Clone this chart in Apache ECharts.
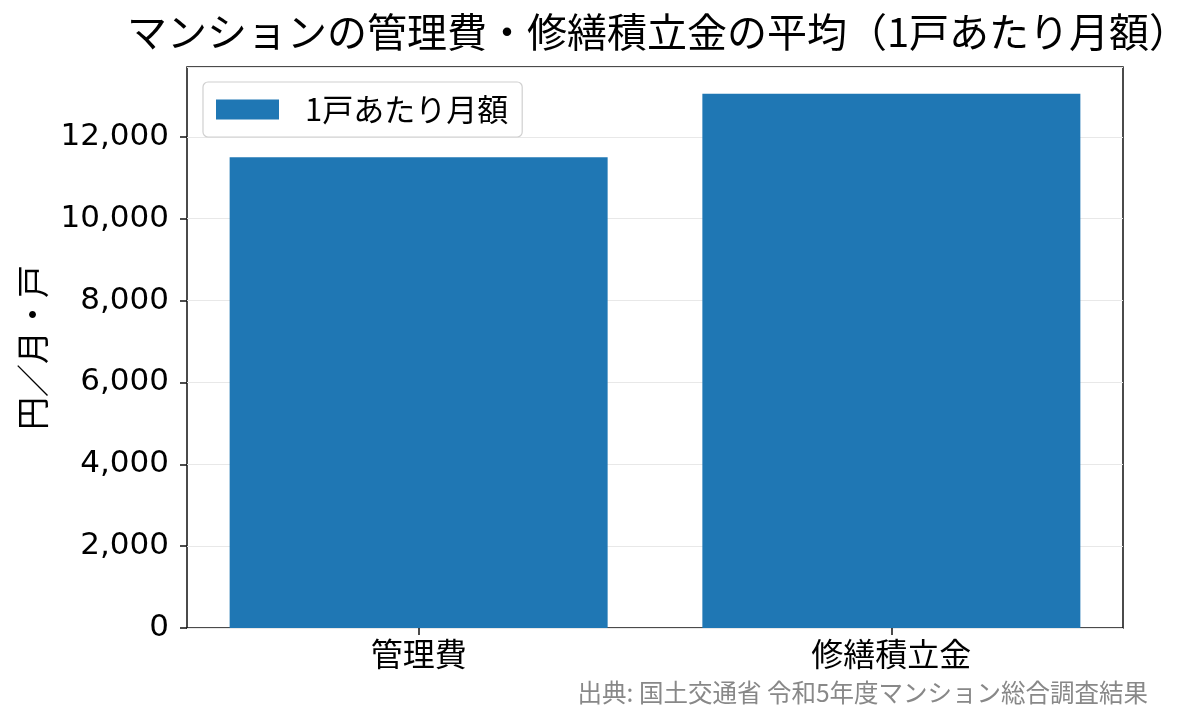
<!DOCTYPE html>
<html>
<head>
<meta charset="utf-8">
<script src="https://cdn.jsdelivr.net/npm/echarts@6/dist/echarts.min.js"></script>
<style>
html,body{margin:0;padding:0;background:#fff;}
#chart{width:1204px;height:725px;}
</style>
</head>
<body>
<div id="chart"></div>
<script>
const categories = ['管理費', '修繕積立金'];
const values = [11503, 13054];
const seriesName = '1戸あたり月額';
const titleText = 'マンションの管理費・修繕積立金の平均（1戸あたり月額）';
const yAxisName = '円／月・戸';
const sourceText = '出典: 国土交通省 令和5年度マンション総合調査結果';
const yTicks = [0, 2000, 4000, 6000, 8000, 10000, 12000];

const FONT = '"Noto Sans CJK JP", "Noto Sans", sans-serif';
const NUMFONT = '"DejaVu Sans", "Noto Sans CJK JP", sans-serif';
const chart = echarts.init(document.getElementById('chart'));
const yMax = Math.max(...values) * 1.05;

chart.setOption({
  animation: false,
  textStyle: { fontFamily: FONT },
  title: {
    text: titleText,
    left: 653,
    top: 7,
    textAlign: 'center',
    textStyle: { fontFamily: FONT, fontSize: 40, fontWeight: 'normal', color: '#000' }
  },
  legend: {
    data: [seriesName],
    left: 203,
    top: 82,
    orient: 'vertical',
    icon: 'rect',
    itemWidth: 63,
    itemHeight: 20,
    padding: [12, 14, 12, 13],
    borderColor: '#d0d0d0',
    borderWidth: 1.2,
    borderRadius: 5,
    backgroundColor: 'rgba(255,255,255,0.85)',
    textStyle: { fontFamily: FONT, fontSize: 31, color: '#000', lineHeight: 30, padding: [0, 0, 0, 21] }
  },
  grid: {
    left: 187, right: 81, top: 67, bottom: 97,
    show: true, borderColor: '#111', borderWidth: 1.5, backgroundColor: 'transparent'
  },
  xAxis: {
    type: 'value',
    min: -0.49,
    max: 1.49,
    axisLine: { show: false, onZero: false },
    splitLine: { show: false },
    axisTick: { show: true, customValues: categories.map((c, i) => i), length: 7, lineStyle: { color: '#111', width: 1.5 } },
    axisLabel: {
      customValues: categories.map((c, i) => i),
      formatter: v => categories[Math.round(v)] || '',
      fontFamily: FONT, fontSize: 32, color: '#000', margin: 10
    }
  },
  yAxis: {
    type: 'value',
    min: 0,
    max: yMax,
    interval: 2000,
    name: yAxisName,
    nameLocation: 'middle',
    nameRotate: 90,
    nameGap: 138,
    nameTextStyle: { fontFamily: FONT, fontSize: 33, color: '#000' },
    axisLine: { show: false, onZero: false },
    axisTick: { show: true, length: 7, lineStyle: { color: '#111', width: 1.5 } },
    axisLabel: {
      showMaxLabel: false,
      fontFamily: NUMFONT, fontSize: 31, color: '#000', margin: 18,
      formatter: v => yTicks.includes(v) ? v.toLocaleString('en-US') : ''
    },
    splitLine: { show: true, lineStyle: { color: '#e8e8e8', width: 1.2 } }
  },
  series: [{
    name: seriesName,
    type: 'bar',
    barWidth: 378,
    itemStyle: { color: '#1f77b4' },
    data: values.map((v, i) => [i, v])
  }],
  graphic: [{
    type: 'text',
    right: 56,
    top: 680,
    style: { text: sourceText, fontFamily: FONT, fontSize: 24.5, fill: '#888888' }
  }]
});
</script>
</body>
</html>
